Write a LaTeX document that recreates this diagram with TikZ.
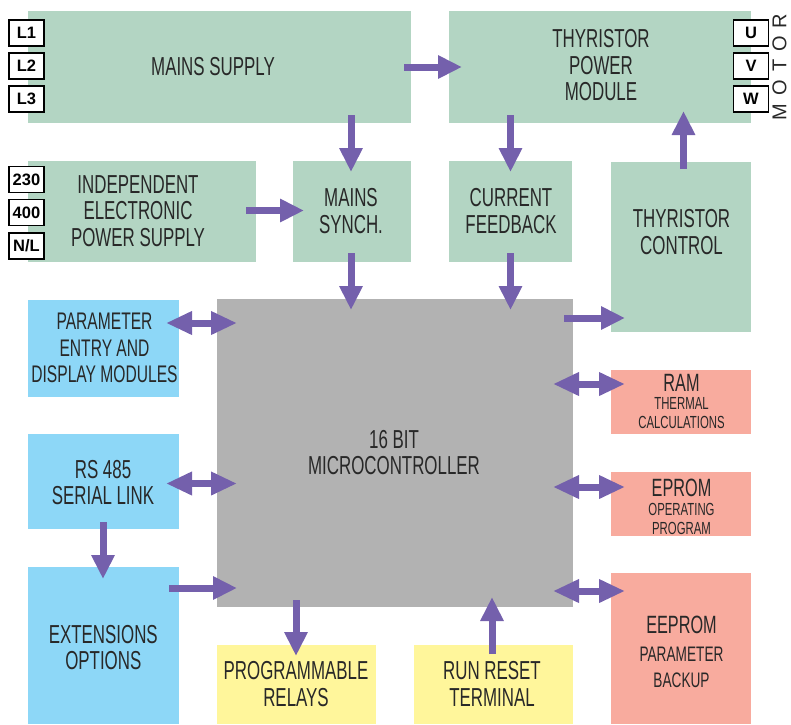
\documentclass[tikz,border=0pt]{standalone}
\usepackage{fontspec}
\setmainfont{Liberation Sans}
\newfontfamily\cfont[FakeStretch=0.65]{Liberation Sans}
\usetikzlibrary{arrows.meta,calc}
\definecolor{boxgreen}{RGB}{179,213,195}
\definecolor{boxblue}{RGB}{141,215,247}
\definecolor{boxgray}{RGB}{178,178,178}
\definecolor{boxsalmon}{RGB}{248,171,158}
\definecolor{boxyellow}{RGB}{255,246,155}
\definecolor{arrowpurple}{RGB}{116,96,172}
\definecolor{textdark}{RGB}{40,40,40}
\begin{document}
\begin{tikzpicture}[x=1pt,y=-1pt,
  blk/.style={draw=none, inner sep=0, outer sep=0, anchor=north west},
  txt/.style={inner sep=0, align=center, text=textdark, font=\cfont\fontsize{26}{26.5}\selectfont},
  txtm/.style={inner sep=0, align=center, text=textdark, font=\cfont\fontsize{24}{26.5}\selectfont},
  txts/.style={inner sep=0, align=center, text=textdark, font=\cfont\fontsize{17.5}{19}\selectfont},
  txtsm/.style={inner sep=0, align=center, text=textdark, font=\cfont\fontsize{21}{26}\selectfont},
  term/.style={draw=black, line width=1.3pt, fill=white, minimum width=35pt, minimum height=26pt, inner sep=0, font=\bfseries\fontsize{16.5}{16.5}\selectfont},
  arr/.style={line width=7pt, draw=arrowpurple, -{Triangle[length=24pt,width=22pt]}},
  darr/.style={line width=7pt, draw=arrowpurple, {Triangle[length=26pt,width=22pt]}-{Triangle[length=26pt,width=22pt]}}
]
\useasboundingbox (0,0) rectangle (791,724);
% boxes
\node[blk, fill=boxgreen, minimum width=383pt, minimum height=112pt] (ms) at (28,11) {};
\node[blk, fill=boxgreen, minimum width=302pt, minimum height=112pt] (tpm) at (449,11) {};
\node[blk, fill=boxgreen, minimum width=228pt, minimum height=101pt] (ieps) at (28,161) {};
\node[blk, fill=boxgreen, minimum width=118pt, minimum height=101pt] (sy) at (293,161) {};
\node[blk, fill=boxgreen, minimum width=123pt, minimum height=101pt] (cf) at (449,161) {};
\node[blk, fill=boxgreen, minimum width=140pt, minimum height=170pt] (tc) at (611,162) {};
\node[blk, fill=boxgray, minimum width=356pt, minimum height=308pt] (mc) at (217,299) {};
\node[blk, fill=boxblue, minimum width=151pt, minimum height=97pt] (pe) at (28,300) {};
\node[blk, fill=boxblue, minimum width=151pt, minimum height=95pt] (rs) at (28,434) {};
\node[blk, fill=boxblue, minimum width=151pt, minimum height=157pt] (ext) at (28,567) {};
\node[blk, fill=boxyellow, minimum width=159pt, minimum height=79pt] (pr) at (217,645) {};
\node[blk, fill=boxyellow, minimum width=159pt, minimum height=79pt] (rrt) at (414,645) {};
\node[blk, fill=boxsalmon, minimum width=140pt, minimum height=64pt] (ram) at (611,370) {};
\node[blk, fill=boxsalmon, minimum width=140pt, minimum height=64pt] (eprom) at (611,472) {};
\node[blk, fill=boxsalmon, minimum width=140pt, minimum height=151pt] (eeprom) at (611,573) {};
% terminals
\node[term] (l1) at (26.5,33) {L1};
\node[term] (l2) at (26.5,66) {L2};
\node[term] (l3) at (26.5,99) {L3};
\node[term] (v230) at (26.5,179.5) {230};
\node[term] (v400) at (26.5,212.5) {400};
\node[term] (vnl) at (26.5,246) {N/L};
\node[term] (tu) at (751,33) {U};
\node[term] (tv) at (751,66) {V};
\node[term] (tw) at (751,99) {W};
\node[inner sep=0, rotate=90, text=textdark, font=\fontsize{20}{20}\selectfont\addfontfeature{LetterSpace=40}] (motor) at (779.5,67) {MOTOR};
% texts
\node[txt] (tms) at (213,66.5) {MAINS SUPPLY};
\node[txt] (ttpm) at (601,65.5) {THYRISTOR\\POWER\\MODULE};
\node[txt] (tieps) at (138,211) {INDEPENDENT\\ELECTRONIC\\POWER SUPPLY};
\node[txt] (tsy) at (351,211) {MAINS\\SYNCH.};
\node[txt] (tcf) at (511,211) {CURRENT\\FEEDBACK};
\node[txt] (ttc) at (681.5,232) {THYRISTOR\\CONTROL};
\node[txt] (tmc) at (394,452.5) {16 BIT\\MICROCONTROLLER};
\node[txtm] (tpe) at (104.5,348) {PARAMETER\\ENTRY AND\\DISPLAY MODULES};
\node[txt] (trs) at (103,482.5) {RS 485\\SERIAL LINK};
\node[txt] (text) at (103.3,647.3) {EXTENSIONS\\OPTIONS};
\node[txt] (tpr) at (296,684) {PROGRAMMABLE\\RELAYS};
\node[txt] (trrt) at (492,684) {RUN RESET\\TERMINAL};
\node[txt, font=\cfont\fontsize{25}{25}\selectfont] (tram) at (681.5,383) {RAM};
\node[txts] (tram2) at (681.5,413.5) {THERMAL\\CALCULATIONS};
\node[txt, font=\cfont\fontsize{25}{25}\selectfont] (teprom) at (681.5,487.5) {EPROM};
\node[txts] (teprom2) at (681.5,519) {OPERATING\\PROGRAM};
\node[txt, font=\cfont\fontsize{25}{25}\selectfont] (teeprom) at (681.5,625) {EEPROM};
\node[txtsm] (teeprom2) at (681.5,667) {PARAMETER\\BACKUP};
% arrows
\draw[arr] ($(ms.east)+(-7,0)$) -- ($(tpm.west)+(13,0)$);
\draw[arr] ($(sy.north |- ms.south)+(-1,-8)$) -- ($(sy.north)+(-1,11)$);
\draw[arr] ($(ieps.east)+(-10,-1)$) -- ($(sy.west)+(11,-1)$);
\draw[arr] ($(sy.south)+(-1,-9)$) -- ($(mc.north -| sy.south)+(-1,11)$);
\draw[arr] ($(cf.north |- tpm.south)+(0,-8)$) -- ($(cf.north)+(0,11)$);
\draw[arr] ($(cf.south)+(0,-9)$) -- ($(mc.north -| cf.south)+(0,11)$);
\draw[arr] ($(tc.north)+(2.5,7)$) -- ($(tpm.south -| tc.north)+(2.5,-12)$);
\draw[arr] ($(mc.north east)+(-9,19)$) -- ($(tc.west |- mc.north east)+(14,19)$);
\draw[darr] ($(pe.north east)+(-13,23)$) -- ($(mc.west |- pe.north east)+(20,23)$);
\draw[darr] ($(rs.east)+(-13,2)$) -- ($(mc.west |- rs.east)+(20,2)$);
\draw[arr] ($(rs.south)+(-0.5,-7)$) -- ($(ext.north)+(-0.5,12)$);
\draw[arr] ($(ext.north east)+(-10,21)$) -- ($(mc.west |- ext.north east)+(20,21)$);
\draw[arr] ($(pr.north |- mc.south)+(-0.5,-7)$) -- ($(pr.north)+(-0.5,11)$);
\draw[arr] ($(rrt.north)+(-1.5,9)$) -- ($(rrt.north |- mc.south)+(-1.5,-10)$);
\draw[darr] ($(mc.east |- ram.north west)+(-20,14)$) -- ($(ram.north west)+(14,14)$);
\draw[darr] ($(mc.east |- eprom.north west)+(-20,15)$) -- ($(eprom.north west)+(14,15)$);
\draw[darr] ($(mc.east |- eeprom.north west)+(-20,18)$) -- ($(eeprom.north west)+(14,18)$);
\end{tikzpicture}
\end{document}
